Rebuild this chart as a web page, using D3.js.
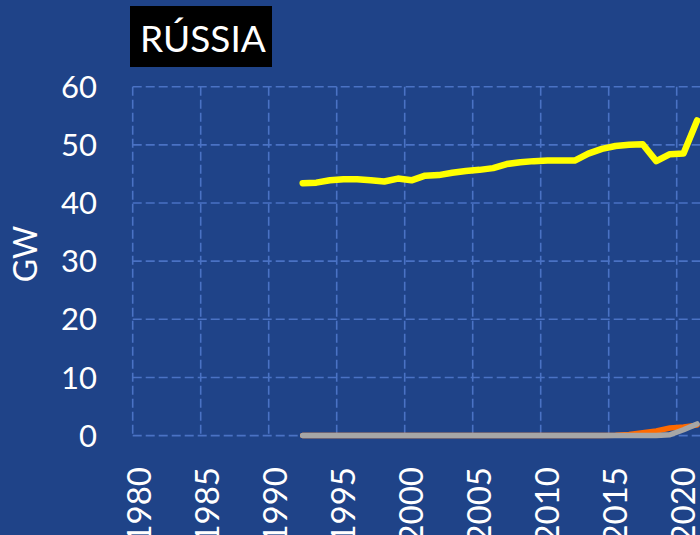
<!DOCTYPE html>
<html>
<head>
<meta charset="utf-8">
<script src="https://cdn.jsdelivr.net/npm/d3@7"></script>
<style>
  html, body { margin: 0; padding: 0; background: #1F4388; }
  svg { display: block; }
  text { font-family: Lato, "Open Sans", sans-serif; fill: #fff; }
</style>
</head>
<body>
<div id="chart"></div>
<script>
// categories on the axis
const axisYears = d3.range(1980, 2022);
const tickYears = [1980, 1985, 1990, 1995, 2000, 2005, 2010, 2015, 2020];
const yTicks = [0, 10, 20, 30, 40, 50, 60];

// series (GW)
const years = [1992, 1993, 1994, 1995, 1996, 1997, 1998, 1999, 2000, 2001,
  2002, 2003, 2004, 2005, 2006, 2007, 2008, 2009, 2010, 2011,
  2012, 2013, 2014, 2015, 2016, 2017, 2018, 2019, 2020, 2021];
const hydro = [43.4, 43.5, 43.9, 44.1, 44.1, 43.9, 43.7, 44.2, 43.9, 44.7,
  44.8, 45.2, 45.5, 45.7, 46.0, 46.7, 47.0, 47.2, 47.3, 47.3,
  47.3, 48.5, 49.3, 49.8, 50.0, 50.1, 47.2, 48.4, 48.5, 54.2];
const solar = [0, 0, 0, 0, 0, 0, 0, 0, 0, 0,
  0, 0, 0, 0, 0, 0, 0, 0, 0, 0,
  0, 0, 0, 0.06, 0.2, 0.5, 0.8, 1.3, 1.5, 1.8];
const wind = [0, 0, 0, 0, 0, 0, 0, 0, 0, 0,
  0, 0, 0, 0, 0, 0, 0, 0, 0, 0,
  0, 0, 0, 0, 0, 0, 0, 0.15, 1.0, 2.0];

const width = 700, height = 535;

const svg = d3.select('#chart').append('svg')
  .attr('width', width).attr('height', height);

const x = d3.scaleBand().domain(axisYears).range([132.7, 703.9]);
const y = d3.scaleLinear().domain([0, 60]).range([435.6, 86.7]);
const cx = d => x(d) + x.bandwidth() / 2;

// grid
const grid = svg.append('g')
  .attr('stroke', '#4A72C4').attr('stroke-width', 1.6)
  .attr('stroke-dasharray', '9,4').attr('fill', 'none');
grid.selectAll('.h').data(yTicks).join('line')
  .attr('x1', x.range()[0]).attr('x2', x.range()[1])
  .attr('y1', d => y(d)).attr('y2', d => y(d));
grid.selectAll('.v').data(tickYears).join('line')
  .attr('x1', d => x(d)).attr('x2', d => x(d))
  .attr('y1', y(60)).attr('y2', y(0));

// y labels
svg.append('g').selectAll('text').data(yTicks).join('text')
  .attr('x', 97).attr('y', d => y(d)).attr('dy', '0.36em')
  .attr('text-anchor', 'end').style('font-size', '31px')
  .text(d => d);

// x labels
svg.append('g').selectAll('text').data(tickYears).join('text')
  .attr('transform', d => `translate(${cx(d)},467) rotate(-90)`)
  .attr('dy', '0.36em').attr('text-anchor', 'end').style('font-size', '33px')
  .text(d => d);

// axis title
svg.append('text')
  .attr('transform', 'translate(25,254) rotate(-90)')
  .attr('dy', '0.36em').attr('text-anchor', 'middle').style('font-size', '32px')
  .text('GW');

// lines
const line = vals => d3.line().x((d, i) => cx(years[i])).y(d => y(d))(vals);
const series = [
  {vals: hydro, color: '#FFFF00', w: 6.5},
  {vals: solar, color: '#FF6A00', w: 5.5},
  {vals: wind, color: '#A6A6A6', w: 5.5}
];
svg.append('g').selectAll('path').data(series).join('path')
  .attr('d', d => line(d.vals))
  .attr('fill', 'none').attr('stroke', d => d.color)
  .attr('stroke-width', d => d.w)
  .attr('stroke-linejoin', 'round').attr('stroke-linecap', 'round');

// title box
svg.append('rect').attr('x', 130).attr('y', 6).attr('width', 142).attr('height', 61)
  .attr('fill', '#000');
svg.append('text').attr('x', 140).attr('y', 51.7)
  .style('font-size', '37px').text('RÚSSIA');
</script>
</body>
</html>
